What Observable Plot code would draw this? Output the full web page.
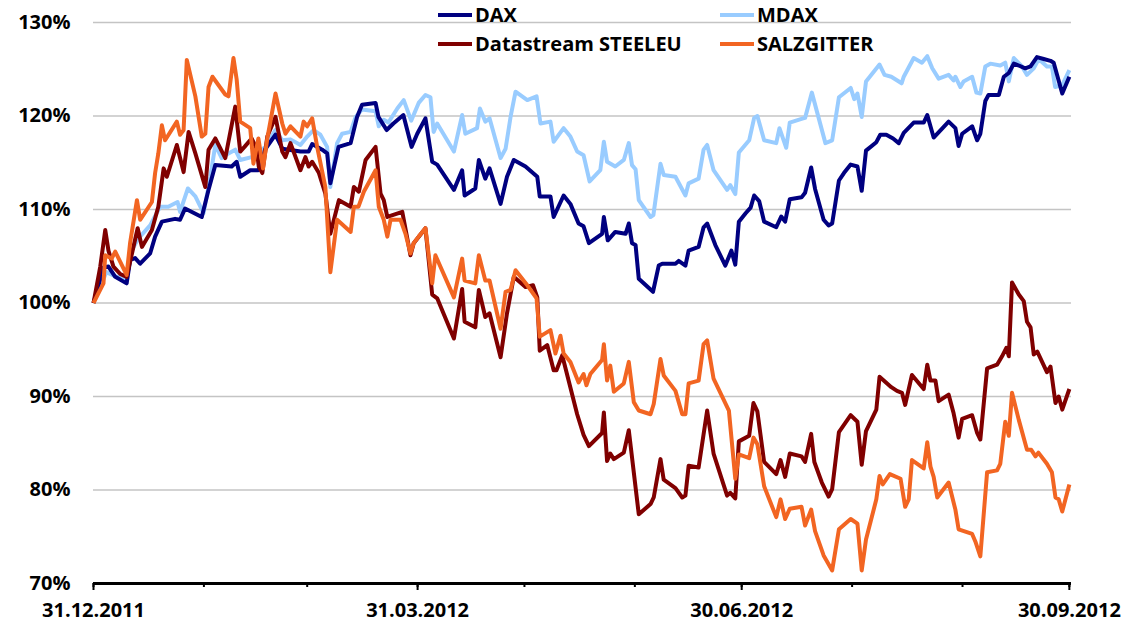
<!DOCTYPE html>
<html><head><meta charset="utf-8">
<script src="https://cdn.jsdelivr.net/npm/d3@7"></script>
<script src="https://cdn.jsdelivr.net/npm/@observablehq/plot@0.6"></script>
<style>
html,body{margin:0;padding:0;background:#fff;}
#wrap{position:relative;width:1140px;height:627px;font-family:"Open Sans",sans-serif;}
#wrap svg{position:absolute;left:0;top:0;}
.leg{position:absolute;display:flex;align-items:center;font-weight:700;font-size:20px;color:#000;white-space:nowrap;height:24px;line-height:24px;z-index:2}
.leg .sw{display:inline-block;width:34px;height:4px;margin-right:3px}
</style></head><body><div id="wrap"></div>
<script>
// [day offset from 31.12.2011, value in %]
const dax = [[0,100],[2.8,103.8],[4.2,103.9],[6.1,102.8],[9.3,102.1],[10.3,104.6],[11.7,104.8],[13.1,104.2],[15.9,105.3],[17.3,107.1],[19.2,108.7],[22.9,109.0],[24.3,108.9],[25.7,110.1],[30.4,109.2],[32.3,112.1],[34.2,114.75],[38.8,114.6],[40.2,115.1],[41.2,113.5],[44,114.2],[46.3,114.2],[48.3,116.5],[51.1,118.0],[53,116.5],[58.1,116.2],[60.4,116.2],[61.4,117.0],[64.2,116.4],[65.6,116.0],[66.5,112.8],[68.8,116.7],[72.2,117.1],[74,119.9],[75.4,121.2],[79.2,121.4],[80,119.9],[82.3,118.5],[84.2,119.2],[87,120.1],[89.3,116.7],[90.9,118.1],[93.2,119.75],[95.1,115.1],[96.5,114.8],[101.2,112.1],[103.5,114.2],[104.2,111.5],[107.2,112.25],[108.2,115.3],[110,113.3],[111.2,114.4],[114.3,110.6],[116.1,113.5],[118,115.3],[121.3,114.6],[124.6,113.5],[125.3,111.4],[128.3,111.4],[129.2,109.2],[132,111.5],[133.9,110.6],[136.2,108.5],[137.6,108.2],[139.1,106.4],[142.8,107.4],[143.3,109.2],[144.4,106.7],[146.5,107.6],[149.4,107.4],[150.3,108.5],[151.2,106.4],[152.2,106.2],[153.1,102.6],[157.1,101.2],[158.7,104.0],[159.7,104.2],[163.4,104.2],[164.3,104.5],[166.2,104.0],[167.1,105.6],[169.9,106.0],[171.3,108.1],[172.3,108.5],[174.6,106.2],[177.4,104.0],[179.1,105.6],[180.2,104.1],[181.2,108.7],[183.1,109.6],[184.5,110.2],[185.5,111.5],[186.9,110.9],[188.3,108.7],[191.7,108.1],[193.1,109.25],[194.2,108.7],[195.5,111.1],[198.8,111.3],[199.8,111.8],[201.5,114.5],[202.6,112.2],[205,108.9],[206.4,108.3],[207.4,108.5],[209.3,113.1],[210.7,113.9],[212.6,114.8],[214.5,114.6],[215.7,112.0],[216.9,116.3],[219.8,117.2],[220.9,118.0],[222.6,118.0],[224.5,117.6],[226.1,117.1],[227.5,118.2],[230.3,119.3],[233.1,119.3],[234.1,120.1],[235.9,117.7],[240.1,119.4],[242,118.7],[242.9,116.8],[243.9,118.1],[246.7,118.9],[248.1,117.4],[249,118.1],[250.4,121.6],[251.3,122.25],[254.2,122.25],[255.6,124.2],[257,124.6],[258.4,125.6],[259.8,125.4],[261.6,125.1],[263.1,125.3],[264.9,126.3],[266.8,126.1],[268.7,125.9],[269.6,125.7],[272,122.4],[274,124.2]];

const mdax = [[0,100],[3.6,103.3],[6.5,102.8],[9.3,102.6],[10.7,105.6],[12.6,106.9],[15.9,108.3],[18.7,110.3],[21,110.3],[23.6,110.8],[24.3,109.75],[26.5,112.25],[28.6,111.4],[30.9,109.6],[32.8,113.5],[34.2,116.9],[36,115.5],[37.9,116.0],[39.8,116.4],[41.2,115.3],[44.4,115.6],[48.3,116.7],[51.1,118.5],[53,117.4],[55.3,117.5],[58.1,116.9],[60,117.8],[61.8,118.5],[63.7,118.0],[65.6,116.7],[66.5,112.4],[68.4,117.1],[69.8,118.1],[72.2,118.3],[73.6,119.9],[75.4,120.7],[79.2,120.5],[80.1,118.9],[81.5,119.6],[82.8,119.3],[85.3,120.8],[87.1,121.7],[89.2,119.5],[91.3,121.4],[93.2,122.25],[94.6,122.0],[95.5,118.3],[96.5,119.2],[101.2,116.2],[103.5,120.1],[104.4,118.1],[107.7,118.7],[108.5,120.8],[110,119.4],[111.2,119.75],[114.3,115.5],[115.7,116.5],[117.1,119.9],[118.5,122.6],[121.8,121.7],[124.4,122.1],[125.5,119.2],[128.3,119.4],[129.2,117.25],[132,118.7],[133.9,117.8],[135.8,116.2],[137.6,115.8],[139.3,113.0],[142.3,114.2],[143.3,117.25],[144.2,115.1],[146.5,114.6],[148.9,115.3],[150.3,117.1],[151.2,114.75],[152.2,114.3],[153.1,111.0],[156.4,109.2],[157.2,109.4],[159.2,114.9],[160.1,113.7],[163.4,113.5],[166.2,111.5],[167.1,112.8],[169.9,113.3],[171.3,116.4],[172.3,116.9],[174.1,114.2],[177.9,112.1],[178.8,112.6],[180.2,111.65],[181.2,116.1],[184.1,117.4],[185.5,119.8],[186.4,120.0],[188.3,117.4],[191.7,117.1],[192.6,118.7],[194.5,116.6],[195.5,119.3],[198.8,119.7],[199.8,119.8],[201.7,122.5],[205.5,117.1],[207.4,117.4],[209.3,122.0],[212.6,123.0],[213.6,121.8],[214.5,122.4],[215.7,119.9],[216.9,123.7],[220.7,125.5],[222.1,124.4],[224,124.2],[226.9,123.5],[227.5,124.2],[230.3,126.2],[232.6,125.7],[234.1,126.4],[235.5,125.1],[237.3,124.0],[240.1,124.4],[241.5,123.8],[242,124.2],[243.4,123.1],[244.3,123.7],[246.7,124.2],[247.9,122.5],[249,122.4],[250.4,125.3],[251.8,125.6],[254.6,125.4],[256,125.7],[257,123.7],[258.4,126.2],[260.7,125.3],[262.1,124.4],[264,125.1],[265.4,126.1],[267.7,125.3],[269.1,125.3],[270,123.1],[272,123.3],[274,124.9]];

const steeleu = [[0,100],[1.9,103.9],[3.3,107.8],[4.2,105.6],[5.6,103.9],[7.5,103.1],[9.3,102.8],[10.8,105.3],[12.4,108.0],[13.6,106.0],[16.4,107.8],[18.2,110.3],[19.7,114.4],[20.6,113.5],[23.4,116.9],[25.3,114.0],[26.7,118.3],[28.6,116.0],[31.4,112.4],[32.3,116.4],[34.2,117.6],[37,115.5],[39.8,121.0],[41.2,116.2],[42.4,116.7],[44.4,117.6],[45.8,116.5],[46.4,114.6],[47.4,113.9],[48.8,117.8],[51.1,119.9],[53,116.2],[53.9,115.6],[55.3,117.1],[58.1,114.2],[59.5,115.6],[60.4,114.6],[61.4,115.1],[63.3,113.9],[65.1,111.7],[66.5,107.4],[68.9,111.0],[72.2,110.3],[73.1,112.4],[74.5,111.9],[76.4,115.3],[79.2,116.7],[80.6,111.7],[81.5,111.0],[82.5,109.2],[86.7,109.75],[89,105.1],[89.9,106.4],[93.2,108.0],[95.1,100.9],[96.5,100.5],[101.2,96.2],[103.5,101.5],[104.2,98.0],[107.2,97.4],[108.2,101.4],[110,98.5],[111.2,98.9],[114.3,94.2],[116.1,98.9],[118,102.8],[121.3,101.7],[123.4,101.9],[124.6,100.6],[125.3,94.9],[127.4,95.5],[129.2,92.8],[130,92.8],[131.6,94.4],[133.4,91.7],[135.8,88.1],[137.6,85.9],[139.1,84.7],[142.8,86.1],[143.3,88.3],[144.2,83.1],[145.1,83.9],[146.1,83.3],[148.9,84.0],[150.3,86.4],[153.1,77.4],[156.4,78.5],[157.3,79.2],[159.2,83.3],[160.1,81.1],[163.4,80.2],[165.3,79.2],[166.2,79.4],[167.1,82.6],[169.9,82.4],[172.3,88.5],[174.1,83.9],[177.9,79.4],[178.8,79.7],[180.2,79.1],[181.2,85.2],[184.1,85.8],[185.3,89.3],[186.4,88.4],[188.3,83.0],[191.7,81.7],[192.9,83.2],[194.2,81.4],[195.5,83.9],[198.8,83.6],[199.8,83.0],[201.5,86.0],[202.4,83.0],[204.5,80.8],[206.4,79.3],[207.4,80.1],[209.3,86.2],[212.6,88.0],[214.5,87.3],[215.7,82.7],[216.9,86.3],[219.8,88.6],[220.7,92.1],[224,91.0],[225.6,90.6],[227,90.4],[227.9,89.1],[229.8,92.3],[233.1,90.8],[234.1,93.4],[235,91.7],[236.4,91.7],[237.3,89.5],[240.1,90.2],[241.5,88.2],[242.9,85.6],[243.9,87.6],[246.7,88.0],[248.1,86.1],[249,85.4],[250.9,93.0],[253.7,93.4],[255.1,94.3],[256.3,95.2],[257,94.3],[257.9,102.2],[259.8,100.9],[261.2,100.2],[262.1,98.0],[263.1,97.4],[264,94.5],[265,94.8],[267.7,92.6],[268.7,93.2],[270.1,89.3],[271,90.0],[272,88.6],[274,90.8]];

const salzgitter = [[0,100],[2.8,102.1],[3.3,105.1],[5.1,104.75],[6.1,105.5],[9.3,103.0],[10.3,106.5],[12.2,111.0],[13.1,108.9],[16.4,110.8],[17.3,113.9],[18.2,116.0],[19.2,119.0],[20.1,117.4],[23.4,119.4],[24.3,118.0],[25.3,118.5],[26.2,126.0],[28.6,122.1],[30.4,117.8],[31.4,118.1],[32.3,123.1],[33.4,124.2],[37,122.3],[37.9,122.1],[39.3,126.2],[40.2,123.9],[41.2,119.4],[44,118.7],[44.9,114.9],[46.3,117.6],[47.6,114.4],[48.8,117.6],[51.1,122.4],[53,119.2],[53.9,118.1],[55.3,118.9],[58.1,117.8],[59,119.4],[60,118.9],[61.4,119.75],[62.8,116.7],[65.1,112.4],[66.5,103.3],[68.4,108.9],[72.2,107.6],[73.1,110.3],[74.4,110.3],[75.9,111.9],[79.2,114.2],[80.1,110.3],[81.5,108.9],[82.5,107.1],[83.4,108.9],[86.2,108.9],[87.6,107.4],[89,105.3],[89.9,106.4],[91.3,107.1],[93.2,108.0],[95.1,102.1],[96,105.1],[101.2,100.6],[103.5,104.75],[104.2,102.4],[107.2,102.1],[108.2,105.1],[110,102.4],[111.2,102.4],[114.3,97.25],[115.7,101.2],[117.1,101.4],[118.5,103.5],[121.8,101.9],[124.4,100.5],[125.3,96.4],[128.3,97.1],[129.7,94.6],[131.1,96.5],[132,94.6],[133.9,93.7],[136.2,91.5],[137.6,92.4],[138.4,91.2],[139.5,92.4],[142.8,93.9],[143.3,95.6],[144.2,91.7],[145.1,93.3],[146.1,90.5],[148.9,91.4],[150.3,93.7],[151.7,89.4],[153.1,88.5],[156.4,88.1],[157.3,89.2],[159.2,94.0],[160.1,92.25],[163.4,90.6],[165.3,88.1],[166.2,88.1],[167.1,91.4],[169.9,91.7],[171.3,95.6],[172.3,96.0],[174.1,91.9],[178.4,88.5],[180.2,81.2],[181.2,83.8],[184.1,83.4],[185.3,85.6],[186.4,84.9],[188.3,80.4],[191.7,77.1],[192.9,79.0],[194.2,76.9],[195.5,78.0],[198.8,78.2],[199.8,76.2],[201.5,77.9],[202.6,75.6],[205,73.0],[207.4,71.4],[209.3,75.8],[212.6,76.9],[214.5,76.4],[215.7,71.4],[216.9,74.7],[219.8,79.0],[220.7,81.5],[221.6,80.6],[223.6,81.7],[226.6,81.2],[227.9,78.2],[228.9,79.0],[229.8,83.2],[233.1,82.3],[234.1,85.1],[235,82.5],[235.9,81.4],[236.9,79.2],[240.1,80.8],[242,77.9],[242.9,75.8],[246.7,75.3],[247.6,74.5],[249,72.9],[250.9,81.9],[253.7,82.1],[254.6,82.8],[256,87.3],[257,85.8],[257.9,90.4],[259.8,87.5],[262.1,84.3],[263.3,84.3],[264.5,83.6],[265.3,84.0],[267.7,82.8],[269.1,81.9],[270.1,79.2],[271,79.0],[272,77.7],[274,80.6]];

const seriesNames = ["DAX", "MDAX", "Datastream STEELEU", "SALZGITTER"];
const seriesColors = ["#000080", "#99CCFF", "#800000", "#F26522"];
const yTicks = [70, 80, 90, 100, 110, 120, 130];
const monthEnds = ["2011-12-31","2012-01-31","2012-02-29","2012-03-31","2012-04-30","2012-05-31","2012-06-30","2012-07-31","2012-08-31","2012-09-30"];
const quarterEnds = ["2011-12-31","2012-03-31","2012-06-30","2012-09-30"];

const base = Date.UTC(2011, 11, 31);
const toDate = d => new Date(base + d * 864e5);
const toRows = s => s.map(([d, v]) => ({date: toDate(d), value: v}));
const seriesData = [dax, mdax, steeleu, salzgitter].map(toRows);
const parse = d3.utcParse("%Y-%m-%d");
const fmt = d3.utcFormat("%d.%m.%Y");

const lineMark = i => Plot.line(seriesData[i], {x: "date", y: "value", stroke: seriesColors[i], strokeWidth: 4, strokeLinejoin: "round", strokeLinecap: "butt"});

const chart = Plot.plot({
  width: 1140, height: 627,
  marginLeft: 93, marginRight: 69, marginTop: 22, marginBottom: 44,
  style: {fontFamily: "'Open Sans', sans-serif", background: "white", color: "#000", fontWeight: "bold"},
  x: {type: "utc", domain: [toDate(0), toDate(274.6)]},
  y: {domain: [70, 130]},
  marks: [
    Plot.gridY(yTicks.filter(t => t > 70), {stroke: "#c4c4c4", strokeOpacity: 1, strokeWidth: 1.6}),
    Plot.axisY(yTicks, {tickSize: 0, tickPadding: 23, tickFormat: d => d + "%", fontSize: 20, fontWeight: "bold", label: null}),
    Plot.axisX(monthEnds.map(parse), {tickSize: 4, strokeWidth: 2, tickFormat: () => "", label: null}),
    Plot.axisX(quarterEnds.map(parse), {tickSize: 7, strokeWidth: 2, tickPadding: 12, tickFormat: fmt, fontSize: 20, fontWeight: "bold", label: null}),
    Plot.ruleY([70], {stroke: "#000", strokeWidth: 3}),
    lineMark(1), lineMark(0), lineMark(2), lineMark(3)
  ]
});

const wrap = document.getElementById("wrap");
wrap.appendChild(chart);

const legendPos = [[438, 3], [720, 3], [438, 32], [720, 32]];
seriesNames.forEach((name, i) => {
  const el = document.createElement("div");
  el.className = "leg";
  el.style.left = legendPos[i][0] + "px";
  el.style.top = legendPos[i][1] + "px";
  const sw = document.createElement("span");
  sw.className = "sw";
  sw.style.background = seriesColors[i];
  el.appendChild(sw);
  el.appendChild(document.createTextNode(name));
  wrap.appendChild(el);
});
</script></body></html>
